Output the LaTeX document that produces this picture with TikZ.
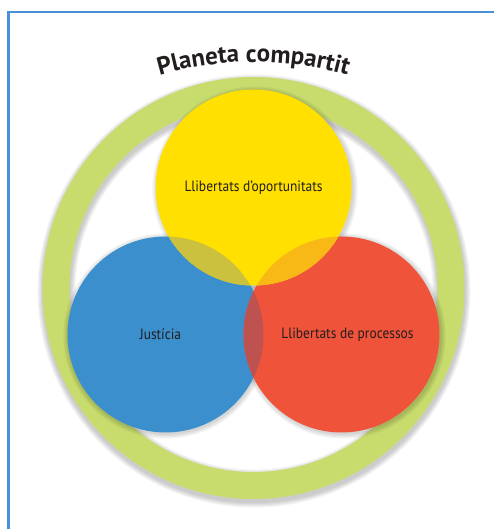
\documentclass[tikz,border=0pt]{standalone}
\usepackage{fontspec}
\usetikzlibrary{decorations.text}
\newfontfamily\labelfont[FakeStretch=0.9]{PT Sans}
\newfontfamily\titlefont{PT Sans}
\definecolor{frameblue}{RGB}{74,144,214}
\definecolor{ringgreen}{RGB}{200,220,110}
\definecolor{sunyellow}{RGB}{255,224,0}
\definecolor{seablue}{RGB}{58,143,204}
\definecolor{firered}{RGB}{239,83,58}
\definecolor{olivemix}{RGB}{203,193,62}
\definecolor{orangemix}{RGB}{248,185,22}
\definecolor{brownmix}{RGB}{190,82,80}
\definecolor{triplemix}{RGB}{236,180,30}
\definecolor{inkdark}{RGB}{35,30,30}

\begin{document}
\begin{tikzpicture}[x=1bp,y=-1bp,
    every node/.style={font=\labelfont\fontsize{15}{17}\selectfont,text=inkdark},
    petal/.style={circle,minimum size=196bp,inner sep=0pt},
    softshade/.style={black,opacity=.045}]
  \useasboundingbox (0,0) rectangle (494,529);
  % frame
  \draw[frameblue,line width=2.5bp] (8.5,529) -- (8.5,12) -- (494,12);
  % shared planet ring
  \foreach \i in {1,...,5}
    \draw[softshade,line width=27bp+2.2bp*\i] (254,291) circle (197.5);
  \draw[ringgreen,line width=27bp] (253.5,288) circle (197.5);
  \path[decorate,decoration={text along path,text align=center,
      text={|\titlefont\bfseries\fontsize{25}{27}\selectfont\color{inkdark}|Planeta compartit}}]
    (253.5,402) ++(-110:340) arc[start angle=-110,end angle=-70,radius=340];
  % circle shadows
  \foreach \c in {(166,336),(343,336),(255,189)}
    \foreach \i in {1,...,4}
      \fill[softshade] \c circle (97.5+1.3*\i);
  % the three freedoms
  \node[petal,fill=seablue] (justice) at (165.5,334.5) {};
  \node[petal,fill=firered] (process) at (341.5,334.5) {};
  \node[petal,fill=sunyellow] (chance) at (253.5,187.5) {};
  % overlaps
  \begin{scope}
    \clip (justice.center) circle (98);
    \fill[brownmix] (process.center) circle (98);
    \clip (chance.center) circle (98);
    \fill[olivemix] (chance.center) circle (98);
    \fill[triplemix] (process.center) circle (98);
  \end{scope}
  \begin{scope}
    \clip (process.center) circle (98);
    \clip (chance.center) circle (98);
    \fill[orangemix] (justice.center) ++(400,0) circle (400);
    \clip (justice.center) circle (98);
    \fill[triplemix] (chance.center) circle (98);
  \end{scope}
  \node (chancetext) at (chance.center) {Llibertats d’oportunitats};
  \node (justicetext) at ([xshift=-5bp]justice.center) {Justícia};
  \node (processtext) at ([xshift=6bp]process.center) {Llibertats de processos};
\end{tikzpicture}
\end{document}
